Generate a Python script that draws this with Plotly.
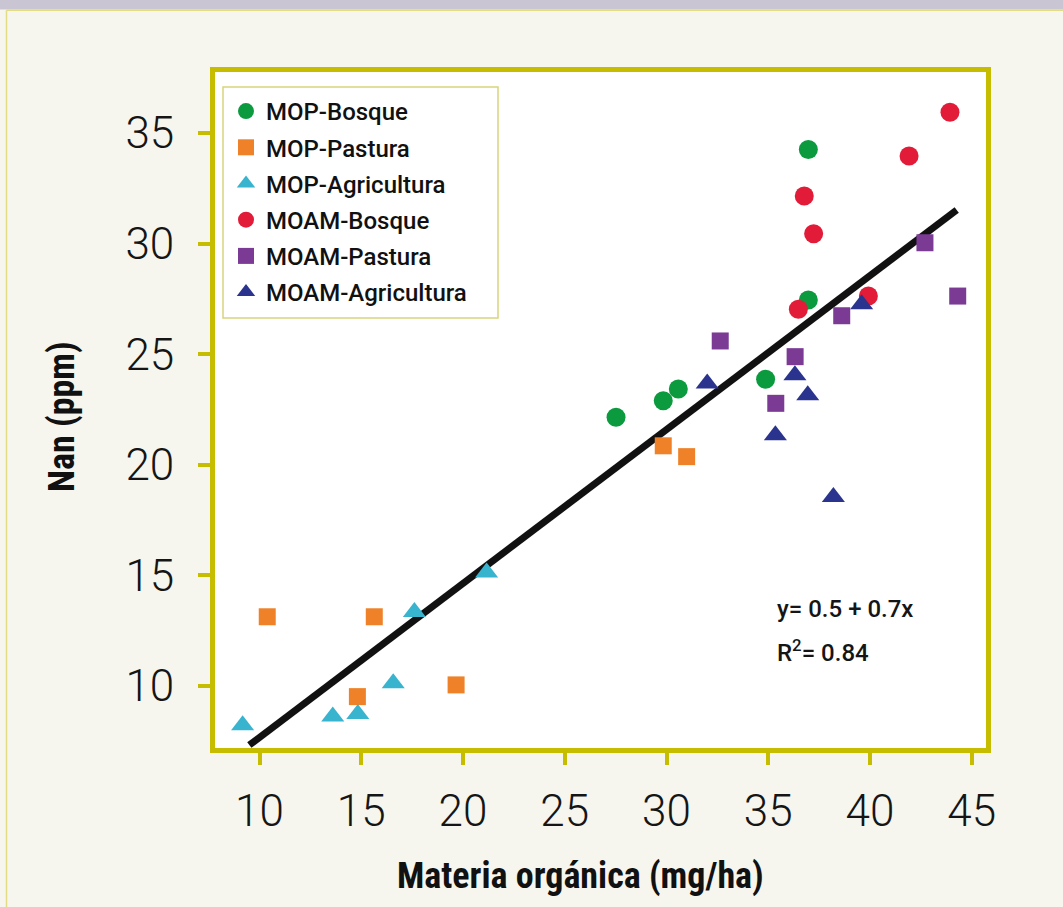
import plotly.graph_objects as go

# ---------------- data ----------------
mop_bosque_x = [27.52, 29.84, 30.58, 34.87, 36.97, 36.97]
mop_bosque_y = [22.15, 22.90, 23.43, 23.87, 34.26, 27.45]

mop_pastura_x = [10.38, 15.64, 14.81, 19.66, 29.84, 30.99]
mop_pastura_y = [13.13, 13.13, 9.52, 10.05, 20.86, 20.37]

mop_agri_x = [9.17, 13.60, 14.83, 16.57, 17.61, 21.16]
mop_agri_y = [8.23, 8.62, 8.73, 10.13, 13.35, 15.13]

moam_bosque_x = [43.93, 41.92, 36.77, 37.23, 36.48, 39.92]
moam_bosque_y = [35.94, 33.96, 32.15, 30.45, 27.03, 27.63]

moam_pastura_x = [42.70, 44.31, 38.61, 32.64, 36.32, 35.37]
moam_pastura_y = [30.04, 27.63, 26.74, 25.60, 24.89, 22.78]

moam_agri_x = [39.59, 32.00, 36.31, 36.94, 35.35, 38.20]
moam_agri_y = [27.26, 23.68, 24.05, 23.15, 21.34, 18.55]

fit_x = [9.50, 44.26]
fit_y = [7.33, 31.52]

x_ticks = [10, 15, 20, 25, 30, 35, 40, 45]
y_ticks = [10, 15, 20, 25, 30, 35]

series = [
    ("MOP-Bosque", mop_bosque_x, mop_bosque_y, "circle", "#0b9a3e", 19),
    ("MOP-Pastura", mop_pastura_x, mop_pastura_y, "square", "#ef8228", 17),
    ("MOP-Agricultura", mop_agri_x, mop_agri_y, "triangle-up", "#39b4cf", 20),
    ("MOAM-Bosque", moam_bosque_x, moam_bosque_y, "circle", "#e21c38", 19),
    ("MOAM-Pastura", moam_pastura_x, moam_pastura_y, "square", "#7b3a94", 17),
    ("MOAM-Agricultura", moam_agri_x, moam_agri_y, "triangle-up", "#2a348f", 20),
]

# ---------------- layout geometry ----------------
W, H = 1063, 907
L, R, T, B = 215, 986, 72, 748
pw, ph = R - L, B - T

def px(x):
    return (x - L) / pw

def py(y):
    return (B - y) / ph

AXIS = "#c6bd00"
BG = "#f6f6ef"
TITLE_FONT = "Roboto Condensed, Liberation Sans Narrow, DejaVu Sans Condensed, Roboto"

fig = go.Figure()

fig.add_trace(go.Scatter(
    x=fit_x, y=fit_y, mode="lines",
    line=dict(color="#111111", width=7),
    showlegend=False, hoverinfo="skip",
))

for name, xs, ys, sym, col, size in series:
    fig.add_trace(go.Scatter(
        x=xs, y=ys, mode="markers", name=name, legendgroup=name,
        marker=dict(symbol=sym, color=col, size=size, line=dict(width=0)),
    ))

axis_common = dict(
    showline=True, linecolor=AXIS, linewidth=5, mirror=True,
    ticks="outside", ticklen=12, tickwidth=4, tickcolor=AXIS,
    showgrid=False, zeroline=False,
    tickfont=dict(family="Roboto", size=44, color="#151515", weight=300),
)

fig.update_xaxes(range=[7.813, 45.70], tickvals=x_ticks, ticklabelstandoff=8, **axis_common)
fig.update_yaxes(range=[7.197, 37.76], tickvals=y_ticks, ticklabelstandoff=15, **axis_common)

shapes = [
    # top grey band
    dict(type="rect", xref="paper", yref="paper", x0=px(0), x1=px(W), y0=py(9.5), y1=py(0),
         fillcolor="#c9c5d3", line=dict(width=0), layer="below"),
    # thin yellow frame lines of the panel
    dict(type="line", xref="paper", yref="paper", x0=px(6.5), x1=px(W), y0=py(10.2), y1=py(10.2),
         line=dict(color="#e2dc84", width=1.5), layer="below"),
    dict(type="line", xref="paper", yref="paper", x0=px(6.5), x1=px(6.5), y0=py(10.2), y1=py(H),
         line=dict(color="#e2dc84", width=1.5), layer="below"),
    # legend box
    dict(type="rect", xref="paper", yref="paper", x0=px(223), x1=px(498), y0=py(318), y1=py(87),
         fillcolor="#ffffff", line=dict(color="#d9d47c", width=1.5), layer="above"),
]

annotations = [
    dict(text="y= 0.5 + 0.7x", xref="paper", yref="paper", x=px(775), y=py(609),
         xanchor="left", yanchor="middle", showarrow=False,
         font=dict(family="Roboto", size=24, color="#151515", weight=500)),
    dict(text="R<sup>2</sup>= 0.84", xref="paper", yref="paper", x=px(775), y=py(651),
         xanchor="left", yanchor="middle", showarrow=False,
         font=dict(family="Roboto", size=24, color="#151515", weight=500)),
    dict(text="Materia orgánica (mg/ha)", xref="paper", yref="paper", x=px(580), y=py(876),
         xanchor="center", yanchor="middle", showarrow=False,
         font=dict(family=TITLE_FONT, size=36, color="#111111", weight=700)),
    dict(text="Nan (ppm)", xref="paper", yref="paper", x=px(62), y=py(417),
         xanchor="center", yanchor="middle", showarrow=False, textangle=-90,
         font=dict(family=TITLE_FONT, size=36, color="#111111", weight=700)),
]

fig.update_layout(
    width=W, height=H,
    margin=dict(l=L, r=W - R, t=T, b=H - B, pad=0),
    paper_bgcolor=BG, plot_bgcolor="#ffffff",
    shapes=shapes, annotations=annotations,
    showlegend=True,
    legend=dict(
        x=px(226), y=py(89), xanchor="left", yanchor="top",
        bgcolor="rgba(0,0,0,0)", borderwidth=0,
        font=dict(family="Roboto", size=24, color="#111111", weight=500),
        tracegroupgap=2, itemsizing="trace",
    ),
)

fig.write_html(
    "out.html",
    config={"displayModeBar": False},
    post_script="document.body.style.margin='0';document.body.style.overflow='hidden';",
)
